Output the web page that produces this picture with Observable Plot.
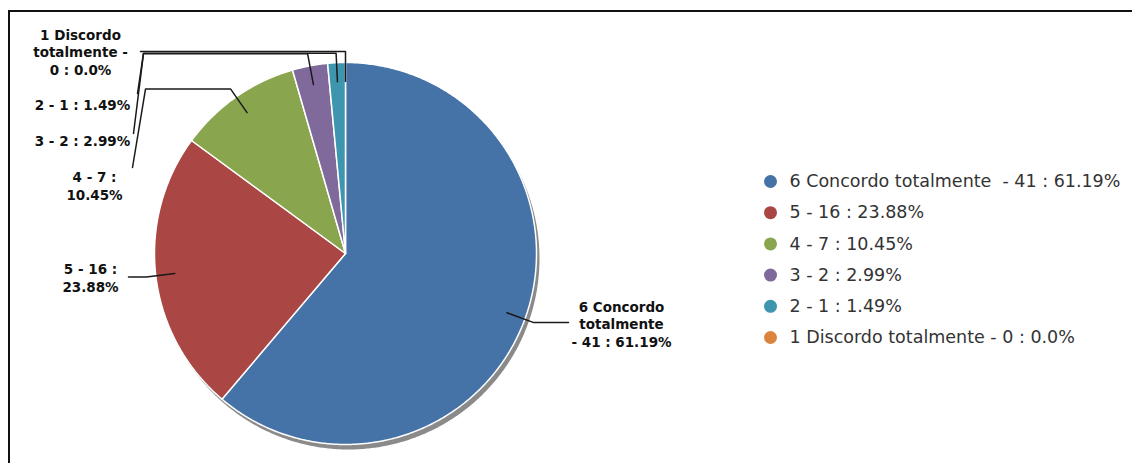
<!DOCTYPE html>
<html><head><meta charset="utf-8">
<script src="https://cdn.jsdelivr.net/npm/d3@7"></script>
<script src="https://cdn.jsdelivr.net/npm/@observablehq/plot@0.6"></script>
<style>
html,body{margin:0;padding:0;background:#fff;width:1132px;height:463px;overflow:hidden;}
#chart{position:absolute;left:0;top:0;}
#frame{position:absolute;left:8px;top:10px;width:1200px;height:500px;border-left:2px solid #111;border-top:2px solid #111;}
svg text{white-space:pre;}
</style></head><body>
<div id="chart"></div><div id="frame"></div>
<script>
// ---- data ----
const categories = ["6 Concordo totalmente ", "5", "4", "3", "2", "1 Discordo totalmente"];
const counts = [41, 16, 7, 2, 1, 0];
const colors = ["#4572a7", "#aa4643", "#89a54e", "#80699b", "#3d96ae", "#db843d"];
const pieLabels = [
  "6 Concordo\ntotalmente\n- 41 : 61.19%",
  "5 - 16 :\n23.88%",
  "4 - 7 :\n10.45%",
  "3 - 2 : 2.99%",
  "2 - 1 : 1.49%",
  "1 Discordo\ntotalmente -\n0 : 0.0%"
];

// ---- layout ----
const W = 1132, H = 463;
const pie = {cx: 345, cy: 253, r: 191, shadowDx: 3, shadowDy: 5};
const labelLayout = [
  {x: 621, y: 323, hx: 568, k: 1.05},
  {x: 90, y: 277, hx: 128, k: 1.05},
  {x: 94, y: 185, hx: 145, k: 1.05, ex: 132, ey: 167},
  {x: 82, y: 140, hx: 143, k: 1.065, ex: 133, ey: 133},
  {x: 82, y: 104, hx: 143, k: 1.05, ex: 137, ey: 93},
  {x: 80, y: 51, hx: 140, k: 1.058}
];
const legendLayout = {x: 770, y0: 181, dy: 31.2, textX: 789};

// ---- derived ----
const total = d3.sum(counts);
const fmtPct = v => { const p = Math.round(v / total * 10000) / 100; return Number.isInteger(p) ? p.toFixed(1) : String(p); };
const legendText = categories.map((c, i) => `${c} - ${counts[i]} : ${fmtPct(counts[i])}%`);

let acc = 0;
const slices = counts.map((c, i) => {
  const a0 = acc / total * 2 * Math.PI; acc += c;
  const a1 = acc / total * 2 * Math.PI;
  return {i, a0, a1, mid: (a0 + a1) / 2, color: colors[i], count: c};
});
const pt = (a, k, dx = 0, dy = 0) => ({x: pie.cx + dx + k * pie.r * Math.sin(a), y: pie.cy + dy - k * pie.r * Math.cos(a)});

function arcPoly(a0, a1, dx = 0, dy = 0) {
  const pts = [{x: pie.cx + dx, y: pie.cy + dy}];
  const n = Math.max(2, Math.ceil((a1 - a0) / (Math.PI / 360)));
  for (let k = 0; k <= n; k++) pts.push(pt(a0 + (a1 - a0) * k / n, 1, dx, dy));
  pts.push({x: pie.cx + dx, y: pie.cy + dy});
  return pts;
}

const shadowPts = arcPoly(0, 2 * Math.PI, pie.shadowDx, pie.shadowDy);

const leaderPts = [];
slices.forEach((s, i) => {
  const L = labelLayout[i];
  const p0 = pt(s.mid, 0.9), p1 = pt(s.mid, L.k);
  const pts = [p0, p1, {x: L.hx, y: p1.y}];
  if (L.ex != null) pts.push({x: L.ex, y: L.ey});
  pts.forEach(p => leaderPts.push({...p, i}));
});

const labelData = slices.map((s, i) => ({x: labelLayout[i].x, y: labelLayout[i].y, text: pieLabels[i]}));
const legendData = categories.map((c, i) => ({x: legendLayout.x, tx: legendLayout.textX, y: legendLayout.y0 + i * legendLayout.dy, color: colors[i], text: legendText[i]}));

const marks = [
  Plot.line(shadowPts, {x: "x", y: "y", fill: "#8a8a8a", stroke: "none", curve: "linear"}),
  ...slices.filter(s => s.count > 0).map(s =>
    Plot.line(arcPoly(s.a0, s.a1), {x: "x", y: "y", fill: s.color, stroke: "#ffffff", strokeWidth: 1.5, strokeLinejoin: "round", curve: "linear"})),
  Plot.line(leaderPts, {x: "x", y: "y", z: "i", stroke: "#1a1a1a", strokeWidth: 1.5, curve: "linear"}),
  Plot.text(labelData, {x: "x", y: "y", text: "text", fontWeight: "bold", fontSize: 13.5, lineHeight: 1.3, textAnchor: "middle", lineAnchor: "middle", fill: "#111"}),
  Plot.dot(legendData, {x: "x", y: "y", r: 6.5, fill: "color", stroke: "none"}),
  Plot.text(legendData, {x: "tx", y: "y", text: "text", fontSize: 17.5, textAnchor: "start", fill: "#333"})
];

const chart = Plot.plot({
  width: W, height: H, margin: 0,
  x: {domain: [0, W], range: [0, W], axis: null},
  y: {domain: [0, H], range: [0, H], axis: null},
  color: {type: "identity"},
  style: {background: "transparent", fontFamily: "'DejaVu Sans', sans-serif", overflow: "visible"},
  marks
});
document.getElementById("chart").appendChild(chart);
</script>
</body></html>
